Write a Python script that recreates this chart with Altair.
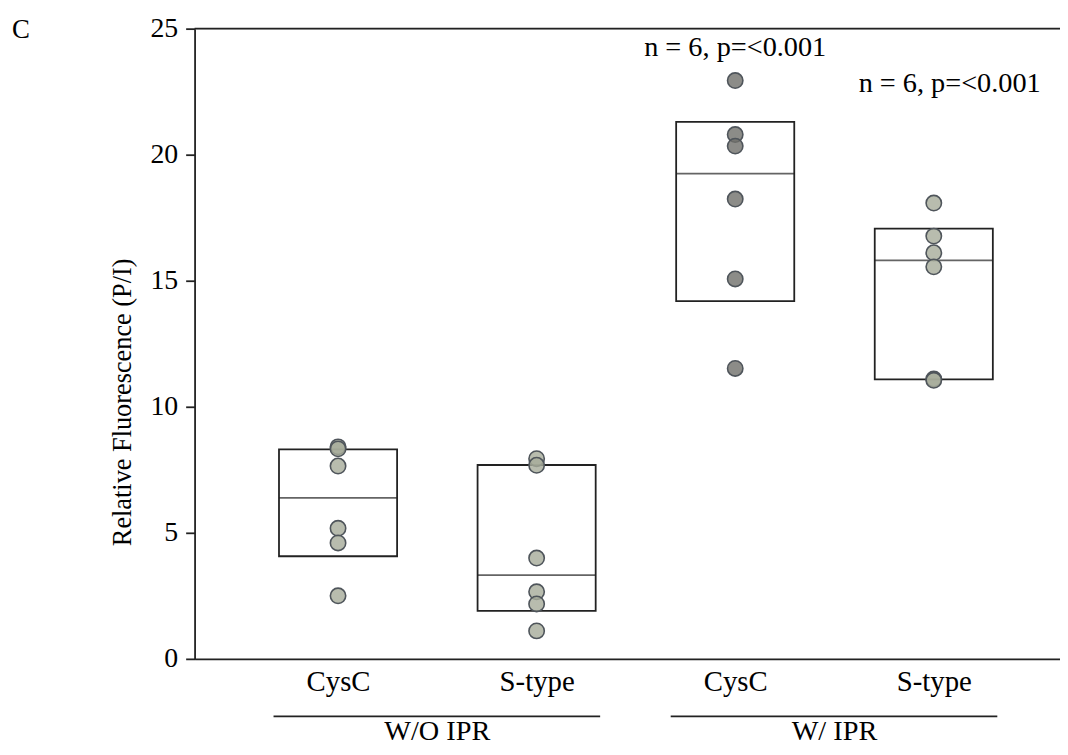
import altair as alt
import pandas as pd

# ---- data ----
cat_ids = ["CysC_WO", "Stype_WO", "CysC_W", "Stype_W"]
cat_labels = ["CysC", "S-type", "CysC", "S-type"]
shade = ["light", "light", "dark", "light"]

g1 = [8.41, 8.33, 7.65, 5.18, 4.60, 2.50]
g2 = [7.94, 7.68, 4.00, 2.66, 2.18, 1.11]
g3 = [22.94, 20.80, 20.34, 18.24, 15.07, 11.52]
g4 = [18.08, 16.77, 16.11, 15.55, 11.10, 11.05]

q1 = [4.07, 1.90, 14.19, 11.09]
median = [6.39, 3.32, 19.25, 15.81]
q3 = [8.31, 7.69, 21.30, 17.07]

annot_text = ["n = 6, p=<0.001", "n = 6, p=<0.001"]
annot_cat = ["CysC_W", "Stype_W"]
annot_y = [23.9, 22.5]
annot_dx = [0, 16]

group_names = ["W/O IPR", "W/ IPR"]
group_start = ["CysC_WO", "CysC_W"]
group_end = ["Stype_WO", "Stype_W"]

y_ticks = [0, 5, 10, 15, 20, 25]

# ---- tables ----
pts = pd.DataFrame(
    [(c, v, s) for c, vals, s in zip(cat_ids, [g1, g2, g3, g4], shade) for v in vals],
    columns=["cat", "value", "shade"],
)
boxes = pd.DataFrame({"cat": cat_ids, "q1": q1, "median": median, "q3": q3})
groups = pd.DataFrame({"name": group_names, "start": group_start, "end": group_end})

FONT = "Liberation Serif"
LINE = "#222222"

label_expr = "''"
for cid, lab in reversed(list(zip(cat_ids, cat_labels))):
    label_expr = f"datum.value == '{cid}' ? '{lab}' : {label_expr}"

xscale = alt.Scale(type="point", domain=cat_ids, padding=0.679, align=0.532)
yscale = alt.Scale(domain=[0, 25], nice=False, zero=True)

x_enc = alt.X(
    "cat:N",
    scale=xscale,
    sort=cat_ids,
    axis=alt.Axis(
        labelExpr=label_expr,
        ticks=False,
        domainColor=LINE,
        domainWidth=1.8,
        labelFont=FONT,
        labelFontSize=29,
        labelColor="black",
        labelPadding=9,
        labelAngle=0,
        grid=False,
        title=None,
    ),
)

y_axis = alt.Axis(
    values=y_ticks,
    tickSize=9,
    tickWidth=1.8,
    tickColor=LINE,
    domainColor=LINE,
    domainWidth=1.8,
    labelFont=FONT,
    labelFontSize=28,
    labelColor="black",
    labelPadding=8,
    grid=False,
    title="Relative Fluorescence (P/I)",
    titleFont=FONT,
    titleFontSize=26.5,
    titleFontWeight="normal",
    titleColor="black",
    titleX=-65,
    titleY=376,
    titleAngle=270,
    titleAlign="center",
    titleBaseline="alphabetic",
)

box_layer = alt.Chart(boxes).mark_bar(
    size=119, fill="white", stroke=LINE, strokeWidth=1.8
).encode(
    x=x_enc,
    y=alt.Y("q1:Q", scale=yscale, axis=y_axis),
    y2="q3:Q",
)

median_layer = alt.Chart(boxes).mark_tick(
    size=119, thickness=1.8, color=LINE, orient="horizontal"
).encode(
    x=alt.X("cat:N", scale=xscale),
    y=alt.Y("median:Q", scale=yscale),
)

point_layer = alt.Chart(pts).mark_circle(
    size=240, opacity=1, fillOpacity=0.8, stroke="#4f555b", strokeWidth=1.6
).encode(
    x=alt.X("cat:N", scale=xscale),
    y=alt.Y("value:Q", scale=yscale),
    fill=alt.Fill(
        "shade:N",
        scale=alt.Scale(domain=["light", "dark"], range=["#a6ab9a", "#6f6f6a"]),
        legend=None,
    ),
)

top_rule = alt.Chart(pd.DataFrame({"v": [25]})).mark_rule(
    color=LINE, strokeWidth=1.8
).encode(
    y=alt.Y("v:Q", scale=yscale),
    x=alt.value(0),
    x2=alt.value(872),
)

annot_layers = []
for t, c, yv, dx in zip(annot_text, annot_cat, annot_y, annot_dx):
    annot_layers.append(
        alt.Chart(pd.DataFrame({"cat": [c], "y": [yv], "t": [t]}))
        .mark_text(font=FONT, fontSize=28.5, color="black", align="center",
                   baseline="alphabetic", dx=dx)
        .encode(
            x=alt.X("cat:N", scale=xscale),
            y=alt.Y("y:Q", scale=yscale),
            text="t:N",
        )
    )

group_rule = alt.Chart(groups).mark_rule(
    color=LINE, strokeWidth=1.8, xOffset=-65, x2Offset=64
).encode(
    x=alt.X("start:N", scale=xscale),
    x2="end:N",
    y=alt.value(693),
)

group_text = alt.Chart(groups).mark_text(
    font=FONT, fontSize=28.5, color="black", align="center",
    baseline="alphabetic", dx=100
).encode(
    x=alt.X("start:N", scale=xscale),
    y=alt.value(717),
    text="name:N",
)

panel_letter = alt.Chart(pd.DataFrame({"t": ["C"]})).mark_text(
    font=FONT, fontSize=27, color="black", align="center", baseline="alphabetic"
).encode(
    text="t:N",
    x=alt.value(-175),
    y=alt.value(9),
)

chart = alt.layer(
    box_layer, median_layer, point_layer, top_rule, *annot_layers,
    group_rule, group_text, panel_letter
).properties(
    width=872,
    height=635,
    autosize=alt.AutoSizeParams(type="none"),
    padding={"left": 188, "top": 18, "right": 0, "bottom": 86},
).configure_view(stroke=None).configure(background="white")

chart.save("out.html", embed_options={"renderer": "svg", "actions": False})
